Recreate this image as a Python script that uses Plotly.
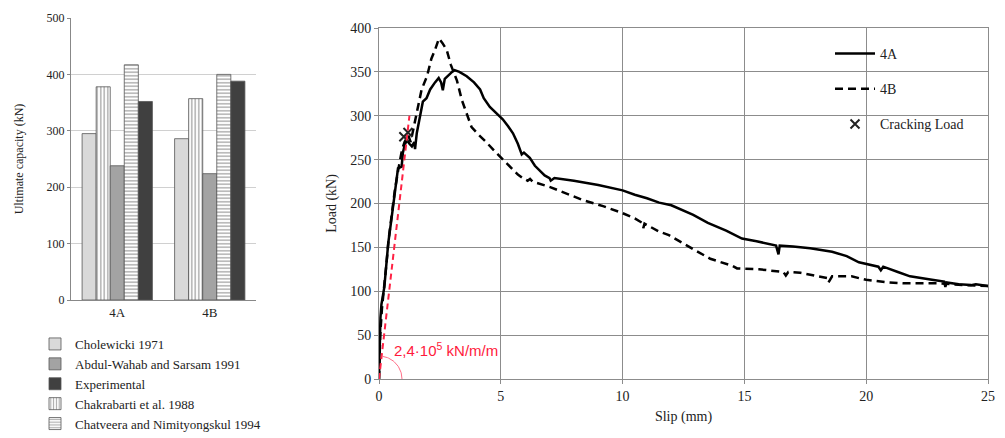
import numpy as np
import plotly.graph_objects as go

# ---------------- Data: bar chart (ultimate capacity, kN) ----------------
specimens = ["4A", "4B"]
cholewicki = [295, 286]
chakrabarti = [378, 357]
abdul_wahab = [238, 224]
chatveera = [417, 400]
experimental = [352, 388]

# ---------------- Data: load-slip curves ----------------
slip_4a = [0, 0.03, 0.06, 0.1, 0.15, 0.22, 0.3, 0.38, 0.5, 0.6, 0.72, 0.78, 0.93, 0.98, 1.07, 1.15,
           1.25, 1.35, 1.45, 1.48, 1.55, 1.68, 1.8, 1.95, 2.1, 2.3, 2.45, 2.55, 2.62, 2.7, 2.83, 3.0,
           3.1, 3.3, 3.6, 3.9, 4.15, 4.3, 4.55, 4.8, 5.08, 5.3, 5.5, 5.7, 5.86, 5.95, 6.19, 6.4, 6.6,
           6.8, 7.0, 7.05, 7.2, 8.0, 9.0, 10.0, 10.5, 11.0, 11.5, 12.0, 12.9, 13.5, 14.25, 14.9, 15.5,
           16.3, 16.4, 16.45, 17.0, 17.7, 18.6, 19.2, 19.7, 20.5, 20.6, 20.7, 21.3, 21.8, 22.7, 23.2,
           23.25, 23.3, 23.8, 24.3, 24.5, 25.0]
load_4a = [0, 40, 70, 85, 95, 105, 130, 155, 180, 200, 225, 240, 242, 258, 268, 272,
           268, 265, 270, 262, 280, 300, 316, 320, 330, 338, 343, 338, 329, 342, 346, 350,
           352, 350, 345, 338, 330, 320, 310, 303, 296, 288, 280, 268, 256, 258, 252, 243, 237,
           232, 229, 226, 229, 226, 221, 215, 210, 206, 201, 198, 187, 178, 169, 160, 157,
           152, 142, 152, 151, 149, 145, 140, 133, 128, 124, 128, 122, 117, 113, 111,
           105, 110, 108, 107, 108, 106]

slip_4b = [0, 0.05, 0.12, 0.2, 0.3, 0.4, 0.52, 0.65, 0.8, 0.95, 1.05, 1.2, 1.3, 1.4, 1.5, 1.6,
           1.75, 1.97, 2.15, 2.3, 2.46, 2.6, 2.78, 2.95, 3.2, 3.4, 3.6, 3.8, 4.1, 4.4, 4.84, 5.37,
           5.7, 5.9, 6.1, 6.2, 6.3, 7.0, 7.7, 8.36, 9.2, 10.0, 10.5, 10.8, 10.85, 10.9, 11.5, 11.9,
           12.9, 13.6, 14.5, 14.7, 15.6, 16.6, 16.7, 16.8, 17.3, 18.0, 18.4, 18.45, 18.6, 19.4,
           20.0, 20.9, 21.5, 22.7, 23.0, 23.5, 24.0, 25.0]
load_4b = [0, 50, 80, 100, 130, 160, 190, 215, 240, 262, 270, 278, 270, 283, 300, 310,
           330, 345, 365, 375, 388, 383, 375, 358, 340, 318, 302, 287, 278, 270, 257, 242,
           233, 229, 226, 228, 225, 219, 211, 204, 197, 189, 183, 178, 172, 177, 168, 164,
           148, 137, 129, 126, 125, 122, 118, 122, 121, 117, 115, 110, 117, 117,
           113, 110, 109, 109, 109, 108, 107, 106]

crack_slip = [1.02, 1.19]
crack_load = [276, 281]

stiffness_slip = [0, 1.25]
stiffness_load = [0, 300]
stiffness_label = "2,4·10<sup>5</sup> kN/m/m"

# ---------------- Layout geometry (pixels of the target picture) ----------------
W, H = 1005, 438
OFF = 8  # default page body margin
def px_x(a, b):
    return [(a - OFF) / W, (b - OFF) / W]
def px_y(top, bottom):
    return [(H - (bottom - OFF)) / H, (H - (top - OFF)) / H]
def fx(p):
    return (p - OFF) / W
def fy(p):
    return (H - (p - OFF)) / H

R_X = px_x(379, 988)
R_Y = px_y(28, 379)
L_X = px_x(71, 256)
L_Y = px_y(18, 300)

serif = "Liberation Serif"
txt = "#222222"

fig = go.Figure()

# ---------------- Bars ----------------
bar_line = dict(color="#555555", width=0.8)
fig.add_trace(go.Bar(x=specimens, y=cholewicki, name="Cholewicki 1971",
                     marker=dict(color="#d9d9d9", line=bar_line),
                     xaxis="x", yaxis="y", legend="legend2", legendrank=1))
fig.add_trace(go.Bar(x=specimens, y=chakrabarti, name="Chakrabarti et al. 1988",
                     marker=dict(color="white", line=bar_line,
                                 pattern=dict(shape="|", fgcolor="#555555", bgcolor="white",
                                              size=3.5, solidity=0.4)),
                     xaxis="x", yaxis="y", legend="legend2", legendrank=4))
fig.add_trace(go.Bar(x=specimens, y=abdul_wahab, name="Abdul-Wahab and Sarsam 1991",
                     marker=dict(color="#a3a3a3", line=bar_line),
                     xaxis="x", yaxis="y", legend="legend2", legendrank=2))
fig.add_trace(go.Bar(x=specimens, y=chatveera, name="Chatveera and Nimityongskul 1994",
                     marker=dict(color="white", line=bar_line,
                                 pattern=dict(shape="-", fgcolor="#555555", bgcolor="white",
                                              size=3.5, solidity=0.4)),
                     xaxis="x", yaxis="y", legend="legend2", legendrank=5))
fig.add_trace(go.Bar(x=specimens, y=experimental, name="Experimental",
                     marker=dict(color="#404040", line=bar_line),
                     xaxis="x", yaxis="y", legend="legend2", legendrank=3))

# ---------------- Curves ----------------
fig.add_trace(go.Scatter(x=slip_4a, y=load_4a, mode="lines", name="4A",
                         line=dict(color="black", width=2.5),
                         xaxis="x2", yaxis="y2", legend="legend", legendgroup="a"))
fig.add_trace(go.Scatter(x=slip_4b, y=load_4b, mode="lines", name="4B",
                         line=dict(color="black", width=2.5, dash="8px,5px"),
                         xaxis="x2", yaxis="y2", legend="legend", legendgroup="b"))
fig.add_trace(go.Scatter(x=crack_slip, y=crack_load, mode="markers", name="Cracking Load",
                         marker=dict(symbol="x-thin", size=9, line=dict(color="#222222", width=2)),
                         xaxis="x2", yaxis="y2", legend="legend", legendgroup="c"))
fig.add_trace(go.Scatter(x=stiffness_slip, y=stiffness_load, mode="lines", showlegend=False,
                         line=dict(color="#ff2244", width=2, dash="6px,4px"),
                         xaxis="x2", yaxis="y2"))

# stiffness angle arc (decoration, drawn in pixel-equivalent units)
sx = (988 - 379) / 25.0
sy = (379 - 28) / 400.0
ang = np.arctan((stiffness_load[1] * sy) / (stiffness_slip[1] * sx))
th = np.linspace(0, ang, 40)
r = 23
fig.add_trace(go.Scatter(x=r * np.cos(th) / sx, y=r * np.sin(th) / sy, mode="lines",
                         showlegend=False, line=dict(color="#ff6f88", width=1),
                         xaxis="x2", yaxis="y2"))

fig.add_annotation(x=0.55, y=34, xref="x2", yref="y2", text=stiffness_label,
                   showarrow=False, xanchor="left", yanchor="middle",
                   font=dict(family="Liberation Sans", size=15, color="#ff1a3c"))

fig.update_layout(
    width=W, height=H,
    margin=dict(l=0, r=0, t=0, b=0, autoexpand=False),
    paper_bgcolor="white", plot_bgcolor="white",
    font=dict(family=serif, color=txt),
    barmode="group", bargap=0.24, bargroupgap=0,
    xaxis=dict(domain=L_X, anchor="y", showline=True, linecolor="#888888", linewidth=1,
               ticks="", tickfont=dict(size=13, family=serif), showgrid=False, automargin=False),
    yaxis=dict(domain=L_Y, anchor="x", range=[0, 500], dtick=100, showline=True,
               linecolor="#888888", linewidth=1, ticks="outside", ticklen=3, tickcolor="#888888",
               gridcolor="#d0d0d0", tickfont=dict(size=12, family=serif), automargin=False,
               title=dict(text="Ultimate capacity (kN)", font=dict(size=12, family=serif), standoff=20),
               zeroline=False),
    xaxis2=dict(domain=R_X, anchor="y2", range=[0, 25], dtick=5, showline=True, mirror=True,
                linecolor="#8c8c8c", linewidth=1, gridcolor="#8c8c8c", gridwidth=1,
                ticks="outside", ticklen=4, tickcolor="#8c8c8c", zeroline=False, automargin=False,
                tickfont=dict(size=14, family=serif),
                title=dict(text="Slip (mm)", font=dict(size=14, family=serif), standoff=8)),
    yaxis2=dict(domain=R_Y, anchor="x2", range=[0, 400], dtick=50, showline=True, mirror=True,
                linecolor="#8c8c8c", linewidth=1, gridcolor="#8c8c8c", gridwidth=1,
                ticks="outside", ticklen=4, tickcolor="#8c8c8c", zeroline=False, automargin=False,
                tickfont=dict(size=14, family=serif),
                title=dict(text="Load (kN)", font=dict(size=14, family=serif), standoff=10)),
    legend=dict(x=fx(830), y=fy(38), xanchor="left", yanchor="top",
                bgcolor="rgba(0,0,0,0)", font=dict(size=14, family=serif),
                traceorder="grouped", tracegroupgap=14, itemwidth=40),
    legend2=dict(x=fx(35), y=fy(329), xanchor="left", yanchor="top",
                 bgcolor="rgba(0,0,0,0)", font=dict(size=13, family=serif),
                 traceorder="normal", itemwidth=30, tracegroupgap=0),
)

fig.write_html("out.html")
